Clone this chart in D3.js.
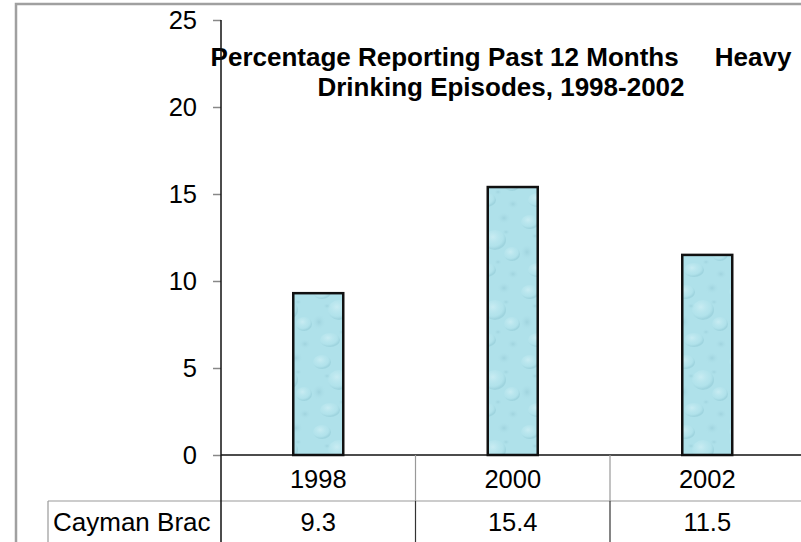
<!DOCTYPE html>
<html>
<head>
<meta charset="utf-8">
<script src="https://cdn.jsdelivr.net/npm/d3@7"></script>
<style>
  html, body { margin: 0; padding: 0; background: #fff; }
  svg { display: block; }
  text { font-family: "Liberation Sans", Arial, sans-serif; fill: #000; }
</style>
</head>
<body>
<svg id="chart" width="801" height="542"></svg>
<script>
const categories = ["1998", "2000", "2002"];
const values = [9.3, 15.4, 11.5];
const seriesName = "Cayman Brac";
const yTicks = [0, 5, 10, 15, 20, 25];
const titleLines = ["Percentage Reporting Past 12 Months     Heavy", "Drinking Episodes, 1998-2002"];

const svg = d3.select("#chart");
const W = 801, H = 542;

// outer border
svg.append("path")
  .attr("d", `M16,${H} L16,4 L${W},4`)
  .attr("fill", "none").attr("stroke", "#a0a0a0").attr("stroke-width", 2.5);

// water-drop texture pattern
const defs = svg.append("defs");
const rg1 = defs.append("radialGradient").attr("id", "dropLight").attr("cx", "40%").attr("cy", "35%").attr("r", "60%");
rg1.append("stop").attr("offset", "0%").attr("stop-color", "#d4f1f6").attr("stop-opacity", 0.7);
rg1.append("stop").attr("offset", "75%").attr("stop-color", "#b8e6ee").attr("stop-opacity", 0.3);
rg1.append("stop").attr("offset", "100%").attr("stop-color", "#8cc5d1").attr("stop-opacity", 0.45);
const rg2 = defs.append("radialGradient").attr("id", "dropDark").attr("cx", "50%").attr("cy", "50%").attr("r", "50%");
rg2.append("stop").attr("offset", "0%").attr("stop-color", "#93c8d4").attr("stop-opacity", 0.55);
rg2.append("stop").attr("offset", "100%").attr("stop-color", "#aee0ea").attr("stop-opacity", 0);

const pat = defs.append("pattern").attr("id", "water").attr("patternUnits", "userSpaceOnUse")
  .attr("width", 52).attr("height", 70);
pat.append("rect").attr("width", 52).attr("height", 70).attr("fill", "#afe1ea");
const drops = [
  [10, 12, 9, 7, "dropLight"], [36, 8, 7, 6, "dropDark"], [27, 30, 11, 10, "dropLight"],
  [7, 42, 7, 8, "dropDark"], [44, 44, 8, 7, "dropLight"], [18, 60, 10, 7, "dropLight"],
  [45, 64, 6, 5, "dropDark"], [38, 22, 4, 3, "dropDark"], [15, 26, 4, 3, "dropDark"],
  [30, 52, 4, 3, "dropDark"]
];
drops.forEach(d => pat.append("ellipse").attr("cx", d[0]).attr("cy", d[1]).attr("rx", d[2]).attr("ry", d[3]).attr("fill", `url(#${d[4]})`));

// scales
const y = d3.scaleLinear().domain([0, 25]).range([455, 20]);
const x = d3.scaleBand().domain(categories).range([221, 804.5]).padding(0);
const barW = x.bandwidth() * 0.257;

// title
const title = svg.append("text").attr("x", 501).attr("text-anchor", "middle")
  .style("font-size", "26px").style("font-weight", "bold")
  .style("white-space", "pre");
title.selectAll("tspan").data(titleLines).join("tspan")
  .attr("x", 501).attr("y", (d, i) => 66 + i * 30).text(d => d);

// y axis
const yAxis = d3.axisLeft(y).tickValues(yTicks).tickSize(8).tickSizeOuter(0).tickPadding(16);
const ga = svg.append("g").attr("transform", "translate(221,0)").call(yAxis);
ga.select(".domain").remove();
ga.selectAll(".tick line").attr("stroke", "#888").attr("stroke-width", 1.5);
ga.selectAll(".tick text").style("font-size", "25.5px").style("font-family", "'Liberation Sans', Arial, sans-serif").attr("fill", "#000");

// bars
svg.append("g").selectAll("rect").data(values).join("rect")
  .attr("x", (d, i) => x(categories[i]) + x.bandwidth() / 2 - barW / 2)
  .attr("y", d => y(d))
  .attr("width", barW)
  .attr("height", d => y(0) - y(d))
  .attr("fill", "url(#water)")
  .attr("stroke", "#111").attr("stroke-width", 2.5);

// x axis line
svg.append("line").attr("x1", 221).attr("x2", W).attr("y1", y(0)).attr("y2", y(0))
  .attr("stroke", "#111").attr("stroke-width", 1.5);

// data table
const rowSplit = 501;
svg.append("line").attr("x1", 48).attr("x2", W).attr("y1", rowSplit).attr("y2", rowSplit)
  .attr("stroke", "#999").attr("stroke-width", 1.2);
svg.append("line").attr("x1", 48).attr("x2", 48).attr("y1", rowSplit).attr("y2", H)
  .attr("stroke", "#999").attr("stroke-width", 1.2);
categories.slice(1).forEach(c => {
  svg.append("line").attr("x1", x(c)).attr("x2", x(c)).attr("y1", y(0)).attr("y2", rowSplit)
    .attr("stroke", "#999").attr("stroke-width", 1.2);
  svg.append("line").attr("x1", x(c)).attr("x2", x(c)).attr("y1", rowSplit).attr("y2", H)
    .attr("stroke", "#333").attr("stroke-width", 1.2);
});
// y axis line (extends through table)
svg.append("line").attr("x1", 221).attr("x2", 221).attr("y1", y(25)).attr("y2", H)
  .attr("stroke", "#111").attr("stroke-width", 1.5);

svg.append("g").selectAll("text").data(categories).join("text")
  .attr("x", d => x(d) + x.bandwidth() / 2).attr("y", 479)
  .attr("text-anchor", "middle").attr("dominant-baseline", "central")
  .style("font-size", "25.5px").text(d => d);
svg.append("g").selectAll("text").data(values).join("text")
  .attr("x", (d, i) => x(categories[i]) + x.bandwidth() / 2).attr("y", 522)
  .attr("text-anchor", "middle").attr("dominant-baseline", "central")
  .style("font-size", "25.5px").text(d => d3.format(".1f")(d));
svg.append("text").attr("x", 53).attr("y", 522).attr("dominant-baseline", "central")
  .style("font-size", "26px").text(seriesName);
</script>
</body>
</html>
